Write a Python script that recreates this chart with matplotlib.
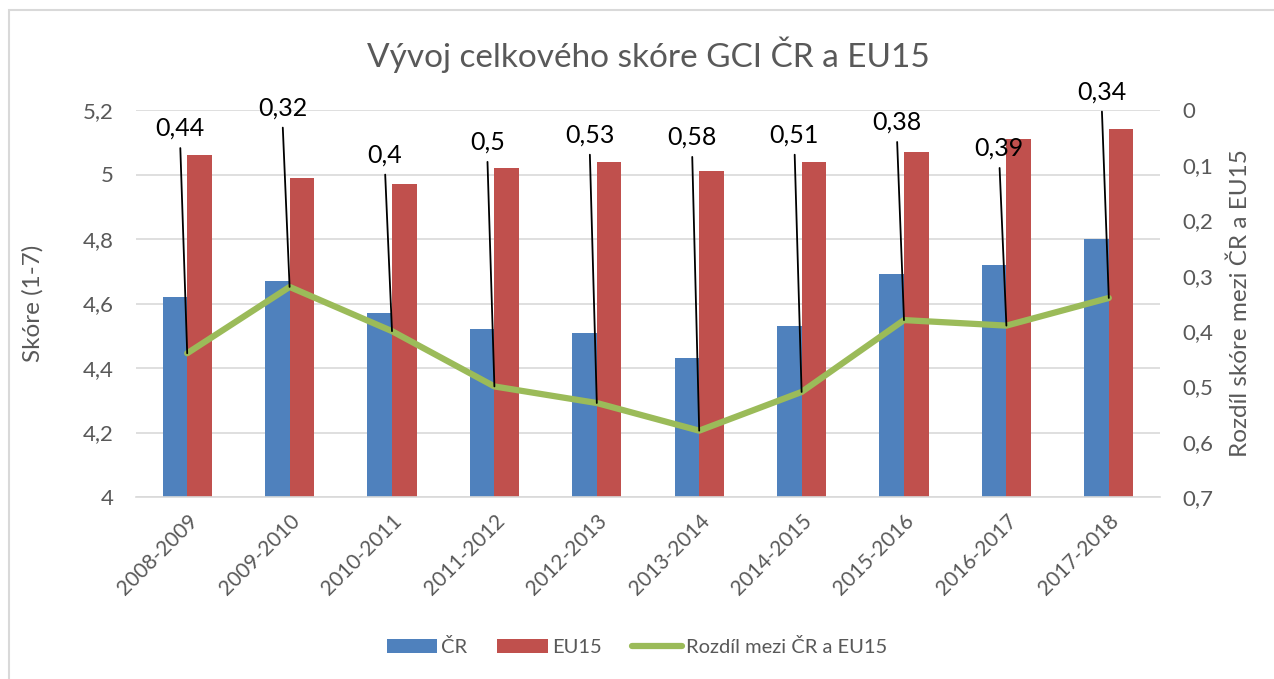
import matplotlib
matplotlib.use("Agg")
import matplotlib.pyplot as plt
from matplotlib.patches import Rectangle
from matplotlib.ticker import FuncFormatter, MultipleLocator

# ---- data ----
categories = ["2008-2009", "2009-2010", "2010-2011", "2011-2012", "2012-2013",
              "2013-2014", "2014-2015", "2015-2016", "2016-2017", "2017-2018"]
cr_scores = [4.62, 4.67, 4.57, 4.52, 4.51, 4.43, 4.53, 4.69, 4.72, 4.80]
eu15_scores = [5.06, 4.99, 4.97, 5.02, 5.04, 5.01, 5.04, 5.07, 5.11, 5.14]
diff = [0.44, 0.32, 0.40, 0.50, 0.53, 0.58, 0.51, 0.38, 0.39, 0.34]
diff_labels = ["0,44", "0,32", "0,4", "0,5", "0,53", "0,58", "0,51", "0,38", "0,39", "0,34"]
# label placement (right-axis units) for the data labels
label_pos = [0.033, -0.004, 0.081, 0.058, 0.045, 0.049, 0.045, 0.022, 0.069, -0.033]

BLUE = "#4F81BD"
RED = "#C0504D"
GREEN = "#9BBB59"
GRAY = "#595959"
FONT = ["Lato", "DejaVu Sans"]

plt.rcParams["font.family"] = FONT

fig = plt.figure(figsize=(12.74, 6.79), dpi=100)
W, H = 1274, 679
ax = fig.add_axes([136 / W, 1 - 497 / H, (1160 - 136) / W, (497 - 110) / H])

x = list(range(len(categories)))
bw = 0.24
ax.bar([i - bw / 2 for i in x], cr_scores, width=bw, color=BLUE, label="ČR", zorder=2)
ax.bar([i + bw / 2 for i in x], eu15_scores, width=bw, color=RED, label="EU15", zorder=2)

ax.set_ylim(4, 5.2)
ax.set_xlim(-0.5, len(categories) - 0.5)
ax.yaxis.set_major_locator(MultipleLocator(0.2))
fmt1 = FuncFormatter(lambda v, p: ("%g" % round(v, 2)).replace(".", ","))
ax.yaxis.set_major_formatter(fmt1)
ax.grid(axis="y", color="#D9D9D9", linewidth=1.2, zorder=0)
ax.set_axisbelow(True)
for s in ["top", "right", "left"]:
    ax.spines[s].set_visible(False)
ax.spines["bottom"].set_color("#D9D9D9")
ax.spines["bottom"].set_linewidth(1.2)
ax.tick_params(axis="y", length=0, colors=GRAY, labelsize=16, pad=16)
ax.tick_params(axis="x", length=0, colors=GRAY, labelsize=15, pad=10)
ax.set_xticks(x)
ax.set_xticklabels(categories, rotation=45, ha="right", rotation_mode="anchor")
ax.set_ylabel("Skóre (1-7)", color=GRAY, fontsize=17.5, labelpad=28)

ax2 = ax.twinx()
ax2.set_ylim(0.7, 0)
ax2.yaxis.set_major_locator(MultipleLocator(0.1))
ax2.yaxis.set_major_formatter(fmt1)
ax2.plot(x, diff, color=GREEN, linewidth=4.5, label="Rozdíl mezi ČR a EU15", zorder=3,
         solid_capstyle="round", solid_joinstyle="round")
for s in ["top", "right", "left", "bottom"]:
    ax2.spines[s].set_visible(False)
ax2.tick_params(axis="y", length=0, colors=GRAY, labelsize=16, pad=16)
ax2.set_ylabel("Rozdíl skóre mezi ČR a EU15", color=GRAY, fontsize=17.5, labelpad=12)

for i, (v, lab, ly) in enumerate(zip(diff, diff_labels, label_pos)):
    ax2.annotate(lab, xy=(i, v), xytext=(i - 0.07, ly), textcoords="data",
                 ha="center", va="center", fontsize=18, color="black",
                 annotation_clip=False, zorder=5,
                 arrowprops=dict(arrowstyle="-", color="black", lw=1.3,
                                 shrinkA=4, shrinkB=0, relpos=(0.5, 0)))

fig.text(648 / W, 1 - 55 / H, "Vývoj celkového skóre GCI ČR a EU15",
         ha="center", va="center", fontsize=24, color=GRAY)

h1, l1 = ax.get_legend_handles_labels()
h2, l2 = ax2.get_legend_handles_labels()
fig.legend(h1 + h2, l1 + l2, loc="center", bbox_to_anchor=(637 / W, 1 - 647 / H),
           ncol=3, frameon=False, fontsize=14.5, handlelength=2.5, handletextpad=0.2,
           columnspacing=1.5, labelcolor=GRAY)

fig.patches.append(Rectangle((9 / W, -0.05), 1.2, 1 - 10 / H + 0.05,
                             transform=fig.transFigure, fill=False,
                             edgecolor="#D9D9D9", linewidth=1.5))

fig.savefig("out.png", dpi=100)
